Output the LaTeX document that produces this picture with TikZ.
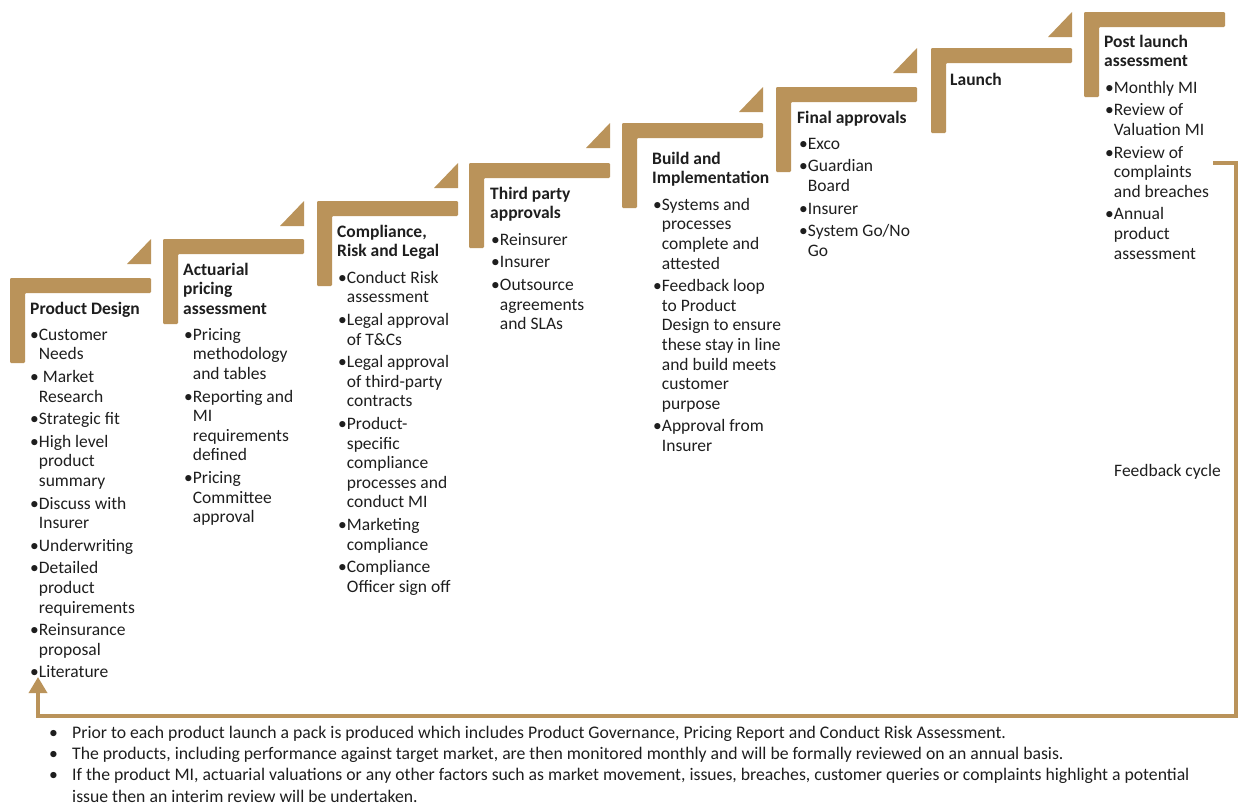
\documentclass[tikz,border=0pt]{standalone}
\usepackage{fontspec}
\setmainfont{Carlito}
\usetikzlibrary{arrows.meta}
\definecolor{gold}{RGB}{186,147,90}
\definecolor{txt}{RGB}{30,30,30}
\newcommand\bl{\textbullet}
\newcommand\ind{\hphantom{\textbullet}}
\newcommand\fl{\rule{0pt}{14pt}}
\tikzset{
  stepbar/.style={fill=gold, draw=none, rounded corners=1.2pt},
  steptri/.style={fill=gold, draw=none},
  ttl/.style={inner sep=0pt, anchor=north west, align=left, text=txt, font=\bfseries\fontsize{17.5}{19.6}\selectfont},
  lst/.style={inner sep=0pt, anchor=north west, align=left, text=txt, font=\fontsize{17.5}{19.6}\selectfont},
  note/.style={inner sep=0pt, anchor=north west, align=left, text=txt, font=\fontsize{17.7}{21.3}\selectfont},
  fb/.style={draw=gold, line width=3.5pt, -{Triangle[width=18pt,length=16pt]}}
}
\begin{document}
\begin{tikzpicture}[x=1pt,y=-1pt]
\useasboundingbox (0,0) rectangle (1238,807);
% L-shaped steps
\foreach \l/\t in {10/278,163/239,317/201,469/163,622/123,776/87,931/48,1084/12}{
  \fill[stepbar] (\l,\t) -- (\l+141,\t) -- (\l+141,\t+15) -- (\l+15,\t+15) -- (\l+15,\t+85) -- (\l,\t+85) -- cycle;
}
% triangles
\foreach \l/\t in {10/239,163/201,317/163,469/123,622/87,776/48,931/12}{
  \fill[steptri] (\l+141,\t) -- (\l+141,\t+25) -- (\l+117,\t+25) -- cycle;
}
% step 1  (top = first baseline - 14)
\node[ttl] (t1) at (30,300) {\fl Product Design};
\node[lst] (l1) at (30,326) {\fl\bl Customer\\ \ind Needs\\[3pt]
\bl\ Market\\ \ind Research\\[3pt]
\bl Strategic fit\\[3pt]
\bl High level\\ \ind product\\ \ind summary\\[3pt]
\bl Discuss with\\ \ind Insurer\\[3pt]
\bl Underwriting\\[3pt]
\bl Detailed\\ \ind product\\ \ind requirements\\[3pt]
\bl Reinsurance\\ \ind proposal\\[3pt]
\bl Literature};
% step 2
\node[ttl] (t2) at (183,261) {\fl Actuarial\\ pricing\\ assessment};
\node[lst] (l2) at (184,326) {\fl\bl Pricing\\ \ind methodology\\ \ind and tables\\[3pt]
\bl Reporting and\\ \ind MI\\ \ind requirements\\ \ind defined\\[3pt]
\bl Pricing\\ \ind Committee\\ \ind approval};
% step 3
\node[ttl] (t3) at (337,223) {\fl Compliance,\\ Risk and Legal};
\node[lst] (l3) at (338,269) {\fl\bl Conduct Risk\\ \ind assessment\\[3pt]
\bl Legal approval\\ \ind of T\&Cs\\[3pt]
\bl Legal approval\\ \ind of third-party\\ \ind contracts\\[3pt]
\bl Product-\\ \ind specific\\ \ind compliance\\ \ind processes and\\ \ind conduct MI\\[3pt]
\bl Marketing\\ \ind compliance\\[3pt]
\bl Compliance\\ \ind Officer sign off};
% step 4
\node[ttl] (t4) at (490,185) {\fl Third party\\ approvals};
\node[lst] (l4) at (491,231) {\fl\bl Reinsurer\\[3pt]
\bl Insurer\\[3pt]
\bl Outsource\\ \ind agreements\\ \ind and SLAs};
% step 5
\node[ttl] (t5) at (652,150) {\fl Build and\\ Implementation};
\node[lst] (l5) at (653,196) {\fl\bl Systems and\\ \ind processes\\ \ind complete and\\ \ind attested\\[3pt]
\bl Feedback loop\\ \ind to Product\\ \ind Design to ensure\\ \ind these stay in line\\ \ind and build meets\\ \ind customer\\ \ind purpose\\[3pt]
\bl Approval from\\ \ind Insurer};
% step 6
\node[ttl] (t6) at (797,109) {\fl Final approvals};
\node[lst] (l6) at (799,135) {\fl\bl Exco\\[3pt]
\bl Guardian\\ \ind Board\\[3pt]
\bl Insurer\\[3pt]
\bl System Go/No\\ \ind Go};
% step 7
\node[ttl] (t7) at (950,71) {\fl Launch};
% step 8
\node[ttl] (t8) at (1104,33) {\fl Post launch\\ assessment};
\node[lst] (l8) at (1105,79) {\fl\bl Monthly MI\\[3pt]
\bl Review of\\ \ind Valuation MI\\[3pt]
\bl Review of\\ \ind complaints\\ \ind and breaches\\[3pt]
\bl Annual\\ \ind product\\ \ind assessment};
% feedback cycle
\coordinate (fbs) at (1213,163);
\coordinate (fbe) at (38,677);
\draw[fb] (fbs) -- ++(23,0) |- (38,716) -- (fbe);
\node[lst] (fbl) at (1114,462) {\fl Feedback cycle};
% notes
\node[note] (notes) at (49,724) {\fl\makebox[23pt][l]{\textbullet}Prior to each product launch a pack is produced which includes Product Governance, Pricing Report and Conduct Risk Assessment.\\
\makebox[23pt][l]{\textbullet}The products, including performance against target market, are then monitored monthly and will be formally reviewed on an annual basis.\\
\makebox[23pt][l]{\textbullet}If the product MI, actuarial valuations or any other factors such as market movement, issues, breaches, customer queries or complaints highlight a potential\\
\hspace*{23pt}issue then an interim review will be undertaken.};
\end{tikzpicture}
\end{document}
